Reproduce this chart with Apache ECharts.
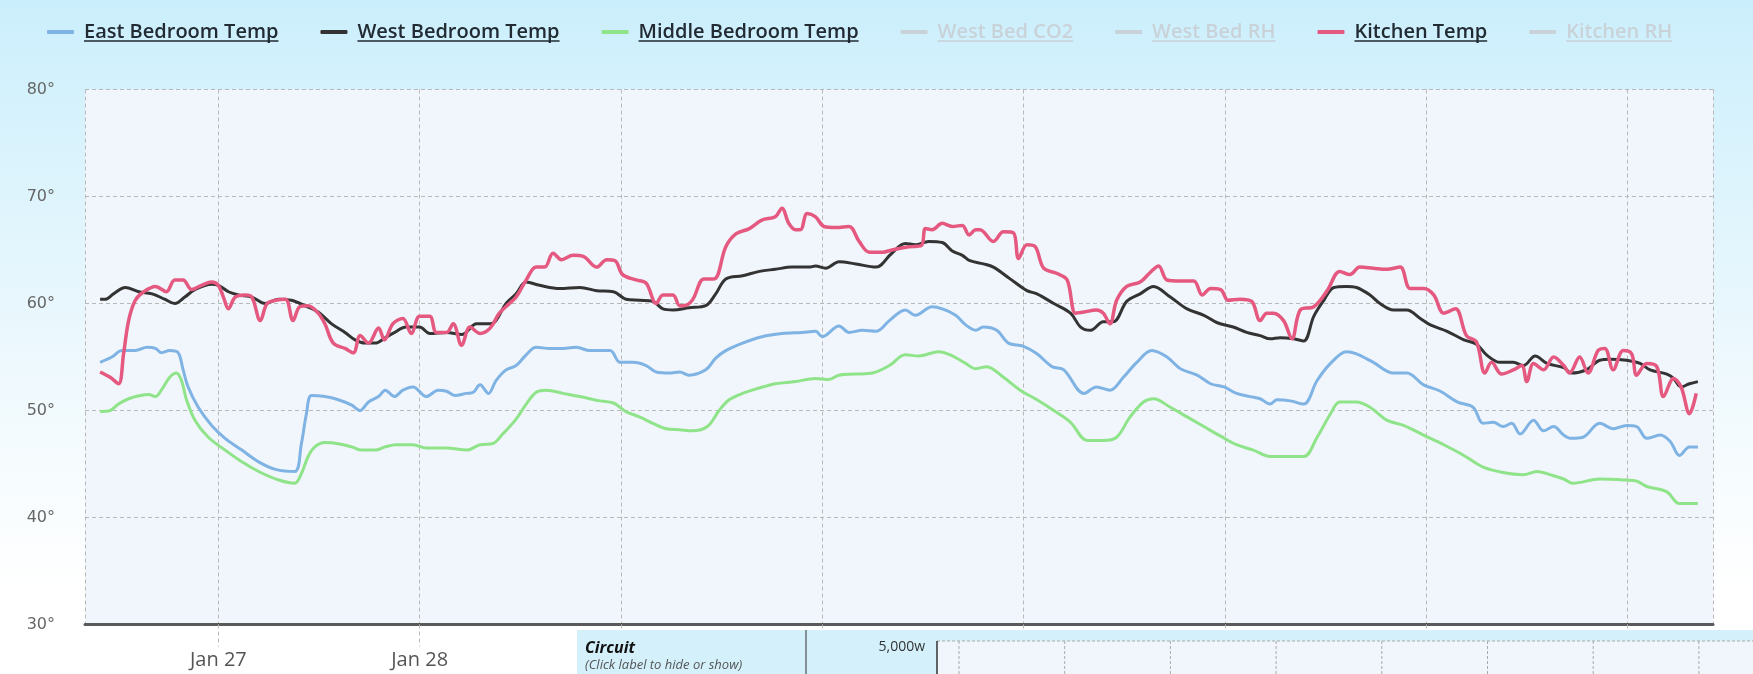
<!DOCTYPE html>
<html><head><meta charset="utf-8">
<script src="https://cdn.jsdelivr.net/npm/echarts@6/dist/echarts.min.js"></script>
<style>
html,body{margin:0;padding:0;}
body{width:1753px;height:674px;overflow:hidden;background:linear-gradient(to bottom,#cbeefc 0%,#d1f1fc 9%,#e2f5fd 35%,#f4fbfe 65%,#ffffff 88%);}
#c{width:1753px;height:674px;}
</style></head><body><div id="c"></div>
<script>
// hours since Jan 26 00:00, temperature °F
const eastBedroom = [[9.9,54.5],[11.3,55.0],[12.5,55.6],[14.1,55.6],[15.5,55.9],[16.5,55.8],[17.2,55.4],[18.2,55.6],[19.2,55.4],[19.8,53.8],[20.4,52.2],[21.6,50.3],[23.2,48.6],[24.8,47.4],[26.8,46.3],[28.8,45.2],[30.8,44.5],[33.1,44.3],[33.9,46.9],[34.5,49.7],[35.1,51.4],[36.7,51.3],[38.3,51.0],[39.9,50.5],[40.9,50.0],[41.9,50.8],[43.1,51.3],[43.9,51.9],[45.0,51.3],[46.0,51.9],[47.2,52.2],[48.8,51.3],[50.2,51.9],[51.2,51.8],[52.2,51.4],[53.6,51.6],[54.4,51.7],[55.2,52.4],[56.2,51.6],[57.1,52.8],[58.3,53.8],[59.5,54.2],[60.7,55.2],[61.9,55.9],[63.5,55.8],[64.7,55.8],[66.7,55.9],[68.3,55.6],[70.7,55.6],[71.9,54.5],[73.4,54.5],[75.0,54.2],[76.2,53.6],[77.8,53.5],[79.0,53.6],[80.1,53.3],[82.1,53.8],[83.3,54.9],[84.5,55.6],[86.5,56.3],[88.8,56.9],[91.2,57.2],[93.6,57.3],[95.2,57.4],[96.0,56.9],[98.0,57.9],[99.2,57.3],[100.8,57.5],[102.4,57.4],[104.0,58.4],[105.9,59.4],[107.1,58.9],[109.1,59.7],[110.3,59.5],[111.9,58.9],[113.1,58.0],[114.3,57.5],[115.2,57.8],[116.8,57.5],[118.2,56.3],[120.0,56.0],[121.6,55.3],[123.4,54.1],[124.8,53.8],[127.2,51.6],[128.7,52.2],[130.3,51.9],[131.9,53.1],[133.5,54.5],[135.3,55.6],[137.1,55.0],[138.7,53.9],[140.7,53.3],[142.3,52.5],[143.9,52.2],[145.4,51.6],[147.0,51.3],[148.2,51.1],[149.4,50.6],[150.2,51.0],[151.8,50.9],[153.4,50.6],[155.0,52.8],[156.6,54.4],[158.5,55.5],[159.7,55.3],[161.7,54.5],[164.1,53.5],[165.7,53.5],[167.7,52.4],[169.7,51.8],[171.7,50.8],[173.6,50.3],[174.8,48.8],[176.0,48.9],[177.2,48.5],[178.2,48.8],[179.2,47.8],[180.8,49.1],[182.0,48.1],[183.2,48.5],[184.4,47.7],[185.3,47.4],[186.7,47.5],[188.7,48.8],[190.3,48.3],[191.9,48.6],[193.1,48.5],[194.3,47.4],[195.9,47.7],[197.1,47.1],[198.2,45.8],[199.4,46.6],[200.4,46.6]];

const westBedroom = [[9.9,60.4],[10.5,60.4],[11.5,60.9],[12.9,61.5],[14.5,61.1],[16.1,60.9],[17.6,60.4],[18.8,60.0],[20.0,60.6],[21.2,61.3],[23.2,61.8],[24.0,61.7],[25.2,61.1],[26.4,60.8],[28.0,60.6],[29.6,60.0],[31.2,60.4],[32.7,60.3],[34.3,59.8],[35.9,59.2],[37.5,58.1],[39.1,57.3],[40.3,56.6],[41.5,56.3],[42.7,56.3],[43.9,56.8],[44.8,57.2],[46.4,57.8],[48.0,57.8],[49.2,57.2],[51.2,57.3],[53.0,57.1],[54.8,58.1],[56.4,58.1],[57.1,58.4],[58.3,60.0],[59.5,60.9],[60.7,62.0],[62.3,61.7],[64.7,61.4],[67.1,61.5],[69.1,61.2],[71.1,61.1],[72.6,60.4],[74.2,60.3],[75.8,60.2],[77.0,59.5],[78.2,59.4],[80.1,59.6],[82.1,59.8],[83.3,60.9],[84.5,62.3],[86.5,62.6],[88.5,63.0],[90.4,63.2],[92.4,63.4],[94.4,63.4],[95.2,63.5],[96.4,63.3],[98.0,63.9],[100.0,63.7],[102.4,63.4],[104.3,64.7],[105.9,65.6],[107.1,65.5],[108.7,65.8],[110.3,65.7],[111.5,64.9],[112.7,64.5],[113.6,64.0],[115.2,63.7],[116.4,63.4],[118.4,62.3],[120.4,61.2],[121.6,60.9],[123.6,60.0],[125.6,59.1],[126.8,57.8],[128.0,57.5],[129.5,58.3],[130.7,58.3],[132.3,60.2],[133.9,60.9],[135.5,61.6],[137.5,60.6],[139.5,59.5],[141.5,58.9],[143.1,58.2],[145.0,57.8],[146.6,57.3],[148.2,57.0],[149.4,56.7],[150.6,56.8],[152.2,56.7],[153.4,56.5],[154.6,58.8],[155.8,60.3],[157.0,61.5],[158.5,61.6],[159.7,61.5],[161.3,60.8],[162.5,60.0],[164.1,59.4],[165.7,59.4],[167.3,58.6],[168.5,58.0],[170.5,57.4],[172.5,56.6],[174.0,56.2],[175.2,55.2],[176.8,54.5],[178.4,54.5],[179.6,54.2],[181.0,55.1],[182.4,54.4],[184.4,54.0],[185.3,53.5],[187.1,53.8],[188.7,54.7],[189.9,54.8],[191.9,54.7],[193.5,54.4],[194.7,53.8],[196.7,53.4],[197.5,53.0],[198.4,52.2],[199.4,52.5],[200.4,52.7]];

const middleBedroom = [[9.9,49.9],[11.1,50.0],[12.1,50.6],[13.3,51.1],[14.7,51.4],[15.7,51.5],[16.5,51.3],[17.2,51.9],[18.2,53.1],[19.0,53.5],[19.6,52.8],[20.2,51.0],[21.2,49.1],[22.8,47.5],[24.8,46.3],[26.8,45.2],[28.8,44.3],[31.2,43.5],[33.1,43.2],[33.9,44.1],[34.7,45.7],[35.5,46.6],[36.7,47.0],[38.3,46.9],[39.9,46.6],[41.1,46.3],[42.7,46.3],[43.9,46.6],[45.2,46.8],[47.2,46.8],[48.8,46.5],[51.2,46.5],[53.6,46.3],[55.2,46.8],[56.7,46.9],[57.9,47.8],[59.5,49.2],[60.7,50.6],[61.9,51.7],[63.1,51.9],[65.1,51.6],[67.1,51.3],[69.5,50.9],[71.1,50.7],[72.6,49.9],[74.2,49.4],[75.8,48.8],[77.4,48.3],[79.0,48.2],[80.5,48.1],[82.3,48.5],[83.7,50.0],[84.9,51.0],[86.5,51.6],[88.5,52.1],[90.4,52.5],[92.8,52.7],[95.2,53.0],[96.8,52.9],[98.0,53.3],[100.0,53.4],[102.0,53.5],[104.0,54.2],[105.9,55.2],[107.5,55.1],[109.9,55.5],[111.5,55.1],[113.1,54.4],[114.3,53.9],[115.6,54.1],[117.6,53.1],[119.6,51.9],[121.6,51.0],[123.6,50.0],[125.6,48.9],[127.6,47.2],[129.5,47.2],[131.1,47.5],[132.7,49.4],[134.3,50.8],[135.5,51.1],[137.5,50.3],[139.5,49.4],[141.5,48.5],[143.5,47.6],[145.4,46.8],[147.4,46.3],[149.4,45.7],[150.6,45.7],[153.4,45.7],[155.0,47.5],[156.6,49.7],[157.7,50.8],[159.7,50.8],[161.3,50.3],[163.3,49.1],[165.3,48.6],[167.7,47.7],[170.1,46.8],[172.5,45.8],[174.8,44.7],[177.2,44.2],[179.6,44.0],[181.2,44.3],[183.2,43.9],[184.4,43.6],[185.5,43.2],[188.7,43.6],[191.9,43.5],[193.1,43.4],[194.3,42.9],[196.7,42.4],[198.2,41.3],[200.4,41.3]];

const kitchen = [[9.9,53.6],[11.1,53.1],[12.1,52.5],[12.7,55.3],[13.3,58.4],[14.1,60.3],[15.1,61.1],[16.5,61.6],[17.8,61.1],[18.8,62.2],[19.8,62.2],[20.8,61.3],[22.0,61.7],[23.2,62.0],[24.0,61.7],[24.6,60.6],[25.2,59.5],[26.0,60.6],[27.2,60.8],[28.0,60.6],[29.0,58.4],[29.8,60.0],[30.8,60.3],[32.0,60.4],[32.9,58.4],[33.7,59.7],[34.7,59.8],[35.9,59.1],[36.7,58.1],[37.7,56.3],[39.1,55.8],[40.1,55.4],[40.9,57.0],[41.9,56.3],[43.1,57.7],[43.8,56.6],[44.8,58.1],[46.0,58.6],[47.0,57.2],[48.0,58.8],[49.2,58.8],[50.0,57.3],[51.2,57.3],[52.0,58.1],[53.0,56.1],[54.0,57.8],[55.2,57.2],[56.4,57.7],[57.5,59.1],[58.7,60.0],[59.5,60.6],[60.7,62.2],[61.9,63.4],[62.9,63.4],[63.9,64.7],[64.9,64.1],[66.3,64.5],[67.5,64.4],[69.1,63.4],[70.3,64.1],[71.3,64.0],[72.2,62.7],[73.8,62.2],[75.0,61.9],[76.2,60.0],[77.0,60.8],[78.2,60.8],[79.0,59.8],[79.5,59.8],[80.5,60.3],[81.9,62.3],[83.1,62.3],[84.5,65.3],[85.7,66.5],[87.3,67.0],[88.8,67.8],[90.4,68.1],[91.2,68.9],[92.0,67.5],[92.8,66.9],[93.4,66.9],[94.2,68.4],[95.2,68.1],[96.2,67.2],[97.6,67.1],[99.2,67.2],[100.4,65.8],[101.6,64.8],[103.2,64.8],[104.3,65.0],[106.3,65.3],[107.8,65.4],[108.3,67.0],[109.1,66.9],[110.3,67.5],[111.5,67.2],[112.7,67.3],[113.5,66.4],[114.3,66.9],[114.8,66.9],[116.4,65.8],[117.6,66.7],[118.8,66.6],[119.4,64.2],[120.4,65.5],[121.4,65.3],[122.4,63.3],[124.0,62.8],[125.2,62.2],[126.2,59.1],[127.2,59.2],[128.7,59.4],[129.5,59.1],[130.3,58.1],[131.1,60.3],[132.3,61.6],[133.9,62.0],[135.1,62.9],[136.1,63.5],[137.1,62.2],[138.7,62.1],[140.3,62.1],[141.3,60.8],[142.3,61.4],[143.5,61.3],[144.4,60.3],[145.8,60.4],[147.2,60.2],[148.2,58.4],[149.0,59.1],[149.8,59.1],[151.0,58.4],[152.0,56.7],[153.0,59.4],[154.6,59.7],[156.2,61.2],[157.7,63.0],[158.9,62.7],[160.1,63.4],[161.7,63.3],[163.3,63.2],[164.9,63.4],[166.1,61.4],[167.7,61.4],[168.9,60.8],[170.1,59.1],[171.5,59.5],[172.8,57.0],[174.0,56.4],[175.0,53.5],[175.8,54.5],[177.0,53.4],[178.4,53.8],[179.4,54.2],[180.0,52.7],[180.8,54.4],[182.0,53.8],[183.2,55.0],[184.4,54.2],[185.1,53.5],[186.3,55.0],[187.3,53.5],[188.5,55.6],[189.3,55.8],[190.3,53.8],[191.5,55.6],[192.5,55.3],[193.1,53.3],[194.3,54.4],[195.5,54.1],[196.3,51.3],[197.5,53.0],[198.4,52.2],[199.4,49.7],[200.2,51.6]];

const seriesNames = ['East Bedroom Temp','West Bedroom Temp','Middle Bedroom Temp','West Bed CO2','West Bed RH','Kitchen Temp','Kitchen RH'];
const hiddenNames = ['West Bed CO2','West Bed RH','Kitchen RH'];
const yTicks = [30,40,50,60,70,80];
const xRangeHours = [8.1, 202.2];
const visibleDayLabels = ['Jan 27','Jan 28'];

const BASE = new Date(2014, 0, 26).getTime();
const toT = h => BASE + h * 3600000;
const toSeries = arr => arr.map(p => [toT(p[0]), p[1]]);
const MONTHS = ['Jan','Feb','Mar','Apr','May','Jun','Jul','Aug','Sep','Oct','Nov','Dec'];

const colors = {
  'East Bedroom Temp':'#7fb3e4','West Bedroom Temp':'#333333','Middle Bedroom Temp':'#8fe388',
  'West Bed CO2':'#cccccc','West Bed RH':'#cccccc','Kitchen Temp':'#e5587f','Kitchen RH':'#cccccc'
};
const dataMap = {
  'East Bedroom Temp':eastBedroom,'West Bedroom Temp':westBedroom,'Middle Bedroom Temp':middleBedroom,
  'West Bed CO2':[],'West Bed RH':[],'Kitchen Temp':kitchen,'Kitchen RH':[]
};
const selected = {}; seriesNames.forEach(n => selected[n] = hiddenNames.indexOf(n) < 0);

// legend geometry (for underlines)
const LEG_LEFT = 47, LEG_ITEM_W = 27, LEG_GAP = 42, LEG_PAD = 5, LEG_FONT_SIZE = 20, LEG_CY = 30;
const cv = document.createElement('canvas').getContext('2d');
cv.font = '600 ' + LEG_FONT_SIZE + 'px "Open Sans"';
const underlines = [];
let lx = LEG_LEFT;
seriesNames.forEach(n => {
  const w = cv.measureText(n).width;
  const tx = lx + LEG_ITEM_W + 5 + LEG_PAD;
  underlines.push({type:'line', z:100, silent:true,
    shape:{x1:tx, y1:LEG_CY + 11, x2:tx + w, y2:LEG_CY + 11},
    style:{stroke: selected[n] ? '#222a33' : '#c9d2d8', lineWidth:1.6}});
  lx = tx + w + LEG_GAP;
});

const panel = [
  {type:'rect', z:100, silent:true, shape:{x:577, y:630, width:1176, height:44}, style:{fill:'#d3f0fb'}},
  {type:'line', z:101, silent:true, shape:{x1:806, y1:630, x2:806, y2:674}, style:{stroke:'#333', lineWidth:1}},
  {type:'text', z:102, silent:true, x:585, y:648, style:{text:'Circuit', font:'italic bold 16px "Open Sans"', fill:'#111', textVerticalAlign:'middle'}},
  {type:'text', z:102, silent:true, x:585, y:665, style:{text:'(Click label to hide or show)', font:'italic 13px "Open Sans"', fill:'#555', textVerticalAlign:'middle'}},
  {type:'text', z:102, silent:true, x:925, y:647, style:{text:'5,000w', font:'14px "Open Sans"', fill:'#333', textAlign:'right', textVerticalAlign:'middle'}},
  {type:'rect', z:101, silent:true, shape:{x:937, y:641, width:816, height:33}, style:{fill:'#f0f6fc'}},
  {type:'line', z:102, silent:true, shape:{x1:937, y1:641, x2:1753, y2:641}, style:{stroke:'#aaa', lineWidth:1, lineDash:[3,2]}},
  {type:'line', z:103, silent:true, shape:{x1:937, y1:641, x2:937, y2:674}, style:{stroke:'#333', lineWidth:1.5}}
];
for (let i = 0; i < 8; i++) {
  const x = 959 + i * 105.7;
  panel.push({type:'line', z:102, silent:true, shape:{x1:x, y1:641, x2:x, y2:674}, style:{stroke:'#aaa', lineWidth:1, lineDash:[3,2]}});
}

const chart = echarts.init(document.getElementById('c'), null, {renderer:'canvas'});
chart.setOption({
  backgroundColor:'transparent',
  animation:false,
  textStyle:{fontFamily:'"Open Sans", sans-serif'},
  legend:{
    data: seriesNames, selected: selected,
    left: LEG_LEFT, top: LEG_CY - 8, padding:0, itemGap: LEG_GAP,
    itemWidth: LEG_ITEM_W, itemHeight: 4, icon:'roundRect',
    inactiveColor:'#c9d2d8',
    textStyle:{fontSize: LEG_FONT_SIZE, fontWeight:600, color:'#222a33', fontFamily:'"Open Sans"', padding:[0,0,0,LEG_PAD]}
  },
  grid:{left:85, right:40, top:89.5, bottom:49.5, show:true, backgroundColor:'#f0f6fc', borderWidth:0},
  xAxis:{
    type:'time', min: toT(xRangeHours[0]), max: toT(xRangeHours[1]),
    minInterval: 86400000, maxInterval: 86400000,
    axisLine:{show:true, lineStyle:{color:'#5a5a5a', width:3}},
    axisTick:{show:true, length:22, lineStyle:{color:'#b9b9b9', type:[4,3]}},
    splitLine:{show:true, lineStyle:{color:'#b9b9b9', type:[4,3], width:1}},
    axisLabel:{
      margin:26, fontSize:20, color:'#555', fontFamily:'"Open Sans"',
      formatter: v => { const d = new Date(v); if (d.getHours() || d.getMinutes()) return '';
        const s = MONTHS[d.getMonth()] + ' ' + d.getDate(); return visibleDayLabels.indexOf(s) >= 0 ? s : ''; }
    }
  },
  yAxis:{
    type:'value', min: yTicks[0], max: yTicks[yTicks.length-1], interval:10,
    axisLine:{show:false}, axisTick:{show:false},
    splitLine:{show:true, lineStyle:{color:'#b9b9b9', type:[4,3], width:1}},
    axisLabel:{margin:30, fontSize:16, color:'#666', fontFamily:'"DejaVu Sans"', formatter:'{value}°'}
  },
  series: seriesNames.map(n => ({
    name:n, type:'line', data: toSeries(dataMap[n]), showSymbol:false, symbol:'none', smooth:0.35,
    color: colors[n],
    lineStyle:{width: n === 'Kitchen Temp' ? 3.5 : 3, color: colors[n]},
    z: n === 'Kitchen Temp' ? 4 : (n === 'West Bedroom Temp' ? 3 : 2)
  })),
  graphic: underlines.concat(panel)
});
</script></body></html>
